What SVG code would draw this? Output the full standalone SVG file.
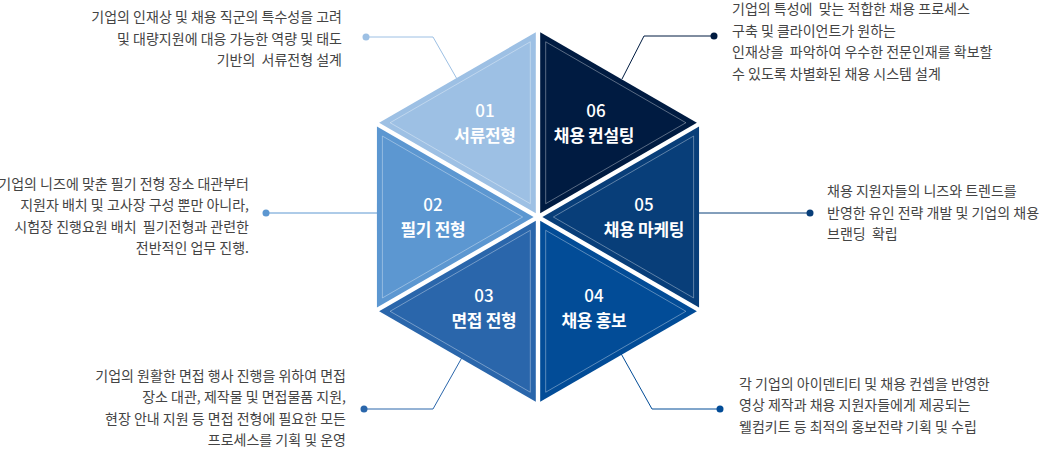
<svg xmlns="http://www.w3.org/2000/svg" width="1039" height="449" viewBox="0 0 1039 449">
<style>
.inner{fill:none;stroke:#ffffff;stroke-opacity:0.35;stroke-width:1}
.num{font-family:"Noto Sans CJK KR","Noto Sans",sans-serif;font-size:17px;font-weight:500;fill:#ffffff;text-anchor:middle}
.ttl{font-family:"Noto Sans CJK KR","Noto Sans",sans-serif;font-size:17px;font-weight:700;fill:#ffffff;text-anchor:middle;letter-spacing:-0.3px}
.desc{font-family:"Noto Sans CJK KR","Noto Sans",sans-serif;font-size:14px;fill:#444444}
.r{text-anchor:end}
.conn{fill:none;stroke-width:1}
</style>
<rect width="1039" height="449" fill="#ffffff"/>
<g id="connectors">
<polyline class="conn" stroke="#9dc0e4" points="366,37 433,37 457,79"/>
<circle cx="366" cy="37" r="3.5" fill="#9dc0e4"/>
<polyline class="conn" stroke="#001b41" points="714,36 644,36 622,79"/>
<circle cx="714" cy="36" r="3.5" fill="#001b41"/>
<polyline class="conn" stroke="#5c97d1" points="266,213 386,213"/>
<circle cx="266" cy="213" r="3.5" fill="#5c97d1"/>
<polyline class="conn" stroke="#083e79" points="692,213 810,213"/>
<circle cx="810" cy="213" r="3.5" fill="#083e79"/>
<polyline class="conn" stroke="#2a66ab" points="364,409 433,409 469,345"/>
<circle cx="364" cy="409" r="3.5" fill="#2a66ab"/>
<polyline class="conn" stroke="#024c97" points="720,409 652,409 619,350"/>
<circle cx="720" cy="409" r="3.5" fill="#024c97"/>
</g>
<g id="node-01">
<polygon fill="#9dc0e4" points="535.8,213.19 535.8,32.27 379.12,122.73"/>
<polygon class="inner" points="530.32,203.69 530.32,41.77 390.09,122.73"/>
<text class="num" x="485" y="117">01</text>
<text class="ttl" x="485" y="142">서류전형</text>
</g>
<g id="node-02">
<polygon fill="#5c97d1" points="533.6,217 376.92,126.54 376.92,307.46"/>
<polygon class="inner" points="522.63,217 382.4,136.04 382.4,297.96"/>
<text class="num" x="433" y="211">02</text>
<text class="ttl" x="433" y="236">필기 전형</text>
</g>
<g id="node-03">
<polygon fill="#2a66ab" points="535.8,220.81 379.12,311.27 535.8,401.73"/>
<polygon class="inner" points="530.32,230.31 390.09,311.27 530.32,392.23"/>
<text class="num" x="484" y="302">03</text>
<text class="ttl" x="484" y="327">면접 전형</text>
</g>
<g id="node-04">
<polygon fill="#024c97" points="540.2,220.81 540.2,401.73 696.88,311.27"/>
<polygon class="inner" points="545.68,230.31 545.68,392.23 685.91,311.27"/>
<text class="num" x="594" y="302">04</text>
<text class="ttl" x="594" y="327">채용 홍보</text>
</g>
<g id="node-05">
<polygon fill="#083e79" points="542.4,217 699.08,307.46 699.08,126.54"/>
<polygon class="inner" points="553.37,217 693.6,297.96 693.6,136.04"/>
<text class="num" x="644" y="211">05</text>
<text class="ttl" x="644" y="236">채용 마케팅</text>
</g>
<g id="node-06">
<polygon fill="#001b41" points="540.2,213.19 696.88,122.73 540.2,32.27"/>
<polygon class="inner" points="545.68,203.69 685.91,122.73 545.68,41.77"/>
<text class="num" x="596" y="117">06</text>
<text class="ttl" x="594" y="142">채용 컨설팅</text>
</g>
<g id="desc-01">
<text class="desc r" x="342" y="22">기업의 인재상 및 채용 직군의 특수성을 고려</text>
<text class="desc r" x="342" y="44">및 대량지원에 대응 가능한 역량 및 태도</text>
<text class="desc r" x="342" y="65" xml:space="preserve">기반의  서류전형 설계</text>
</g>
<g id="desc-06">
<text class="desc" x="732" y="14" xml:space="preserve">기업의 특성에  맞는 적합한 채용 프로세스</text>
<text class="desc" x="732" y="36">구축 및 클라이언트가 원하는</text>
<text class="desc" x="732" y="57" xml:space="preserve">인재상을  파악하여 우수한 전문인재를 확보할</text>
<text class="desc" x="732" y="79">수 있도록 차별화된 채용 시스템 설계</text>
</g>
<g id="desc-02">
<text class="desc r" x="249" y="189">기업의 니즈에 맞춘 필기 전형 장소 대관부터</text>
<text class="desc r" x="249" y="210">지원자 배치 및 고사장 구성 뿐만 아니라,</text>
<text class="desc r" x="249" y="232" xml:space="preserve">시험장 진행요원 배치  필기전형과 관련한</text>
<text class="desc r" x="249" y="253">전반적인 업무 진행.</text>
</g>
<g id="desc-05">
<text class="desc" x="827" y="196">채용 지원자들의 니즈와 트렌드를</text>
<text class="desc" x="827" y="218">반영한 유인 전략 개발 및 기업의 채용</text>
<text class="desc" x="827" y="239" xml:space="preserve">브랜딩  확립</text>
</g>
<g id="desc-03">
<text class="desc r" x="346" y="381">기업의 원활한 면접 행사 진행을 위하여 면접</text>
<text class="desc r" x="346" y="402">장소 대관, 제작물 및 면접물품 지원,</text>
<text class="desc r" x="346" y="424">현장 안내 지원 등 면접 전형에 필요한 모든</text>
<text class="desc r" x="346" y="445">프로세스를 기획 및 운영</text>
</g>
<g id="desc-04">
<text class="desc" x="739" y="389">각 기업의 아이덴티티 및 채용 컨셉을 반영한</text>
<text class="desc" x="739" y="410">영상 제작과 채용 지원자들에게 제공되는</text>
<text class="desc" x="739" y="432">웰컴키트 등 최적의 홍보전략 기획 및 수립</text>
</g>
</svg>
